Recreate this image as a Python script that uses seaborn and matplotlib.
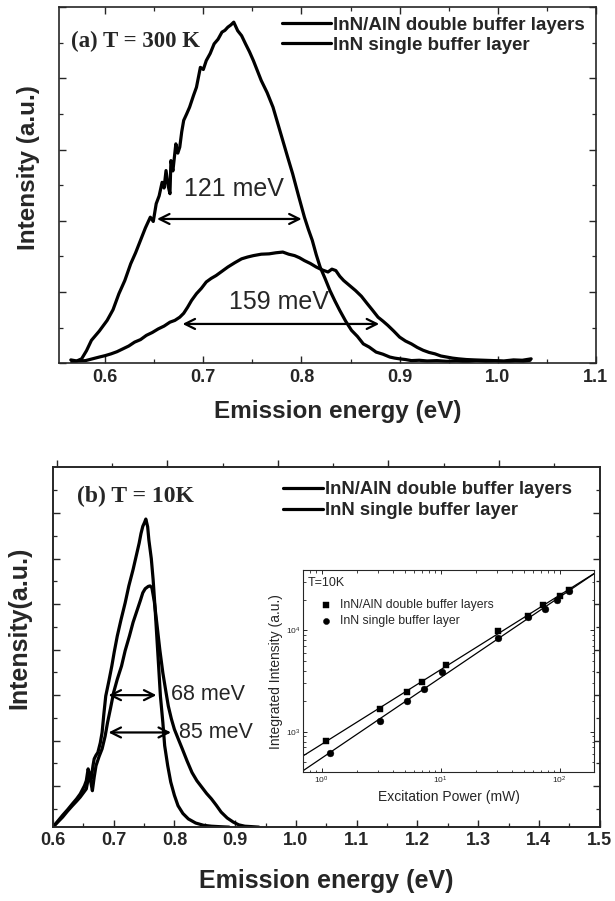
import numpy as np
import pandas as pd
import matplotlib
matplotlib.use("Agg")
import matplotlib.pyplot as plt
from matplotlib.ticker import MultipleLocator, FixedLocator, NullFormatter, LogLocator
import seaborn as sns

# ---------------- Panel (a): T = 300 K ----------------
a_double_E = [0.565, 0.571, 0.576, 0.581, 0.586, 0.594, 0.602, 0.608, 0.614, 0.620, 0.626, 0.631,
              0.636, 0.641, 0.646, 0.649, 0.652, 0.655, 0.658, 0.660, 0.662, 0.664, 0.666, 0.667,
              0.669, 0.672, 0.674, 0.676, 0.678, 0.680, 0.683, 0.686, 0.690, 0.693, 0.697, 0.700,
              0.703, 0.707, 0.711, 0.715, 0.719, 0.722, 0.725, 0.728, 0.731, 0.735, 0.739, 0.743,
              0.747, 0.751, 0.755, 0.759, 0.765, 0.771, 0.776, 0.781, 0.786, 0.791, 0.797, 0.803,
              0.807, 0.811, 0.815, 0.819, 0.824, 0.829, 0.834, 0.839, 0.845, 0.851, 0.857, 0.863,
              0.869, 0.876, 0.883, 0.890, 0.895, 0.900, 0.906, 0.912, 0.920, 0.928, 0.938, 0.948,
              0.958, 0.968, 0.978, 0.988, 0.998, 1.008, 1.018, 1.026, 1.033]
a_double_I = [0.009, 0.006, 0.012, 0.035, 0.064, 0.090, 0.120, 0.150, 0.195, 0.232, 0.279, 0.310,
              0.345, 0.380, 0.410, 0.398, 0.448, 0.470, 0.508, 0.492, 0.541, 0.500, 0.476, 0.569,
              0.540, 0.616, 0.590, 0.607, 0.650, 0.682, 0.700, 0.719, 0.752, 0.775, 0.831, 0.825,
              0.850, 0.870, 0.897, 0.910, 0.930, 0.935, 0.944, 0.950, 0.958, 0.934, 0.920, 0.897,
              0.875, 0.850, 0.822, 0.794, 0.760, 0.719, 0.672, 0.625, 0.578, 0.532, 0.470, 0.410,
              0.376, 0.345, 0.305, 0.270, 0.238, 0.204, 0.175, 0.148, 0.118, 0.092, 0.075, 0.054,
              0.045, 0.031, 0.025, 0.017, 0.014, 0.012, 0.010, 0.007, 0.008, 0.006, 0.007, 0.005,
              0.006, 0.004, 0.007, 0.005, 0.006, 0.004, 0.006, 0.005, 0.008]

a_single_E = [0.566, 0.573, 0.580, 0.587, 0.594, 0.600, 0.606, 0.612, 0.618, 0.624, 0.630, 0.636,
              0.642, 0.648, 0.654, 0.660, 0.666, 0.671, 0.676, 0.680, 0.684, 0.688, 0.693, 0.698,
              0.703, 0.708, 0.713, 0.719, 0.725, 0.732, 0.739, 0.745, 0.751, 0.759, 0.767, 0.774,
              0.781, 0.787, 0.793, 0.798, 0.803, 0.809, 0.815, 0.821, 0.827, 0.831, 0.835, 0.839,
              0.843, 0.849, 0.855, 0.861, 0.867, 0.872, 0.878, 0.883, 0.888, 0.894, 0.900, 0.906,
              0.912, 0.918, 0.924, 0.930, 0.936, 0.942, 0.948, 0.954, 0.960, 0.968, 0.976, 0.986,
              0.996, 1.006, 1.016, 1.025, 1.034]
a_single_I = [0.003, 0.006, 0.007, 0.012, 0.017, 0.021, 0.026, 0.032, 0.040, 0.048, 0.059, 0.066,
              0.078, 0.086, 0.096, 0.104, 0.115, 0.120, 0.129, 0.140, 0.157, 0.176, 0.195, 0.210,
              0.228, 0.238, 0.246, 0.258, 0.270, 0.282, 0.293, 0.298, 0.302, 0.306, 0.307, 0.310,
              0.312, 0.306, 0.302, 0.296, 0.288, 0.280, 0.270, 0.262, 0.256, 0.264, 0.260, 0.244,
              0.232, 0.218, 0.204, 0.188, 0.167, 0.150, 0.129, 0.118, 0.106, 0.090, 0.073, 0.062,
              0.054, 0.044, 0.036, 0.030, 0.026, 0.020, 0.017, 0.014, 0.012, 0.010, 0.009, 0.008,
              0.007, 0.006, 0.009, 0.008, 0.012]

# ---------------- Panel (b): T = 10 K ----------------
b_double_E = [0.600, 0.608, 0.616, 0.624, 0.632, 0.639, 0.645, 0.652, 0.655, 0.658, 0.661, 0.663,
              0.666, 0.668, 0.671, 0.674, 0.678, 0.681, 0.684, 0.687, 0.692, 0.697, 0.701, 0.706,
              0.712, 0.719, 0.725, 0.732, 0.737, 0.742, 0.745, 0.748, 0.751, 0.753, 0.756, 0.758,
              0.762, 0.765, 0.768, 0.771, 0.774, 0.777, 0.781, 0.784, 0.789, 0.794, 0.800, 0.806,
              0.814, 0.823, 0.835, 0.848, 0.861, 0.874, 0.890]
b_double_I = [0.00, 0.13, 0.26, 0.38, 0.51, 0.62, 0.73, 0.91, 1.02, 1.28, 1.12, 1.06,
              1.35, 1.50, 1.58, 1.64, 1.85, 2.08, 2.50, 2.88, 3.20, 3.54, 3.85, 4.20,
              4.55, 4.93, 5.30, 5.66, 5.95, 6.24, 6.45, 6.61, 6.70, 6.77, 6.60, 6.31,
              5.90, 5.44, 4.85, 4.20, 3.55, 2.88, 2.30, 1.79, 1.35, 0.99, 0.70, 0.47,
              0.30, 0.18, 0.09, 0.04, 0.02, 0.01, 0.00]

b_single_E = [0.600, 0.608, 0.616, 0.624, 0.632, 0.639, 0.645, 0.650, 0.655, 0.658, 0.660, 0.663,
              0.665, 0.668, 0.671, 0.676, 0.681, 0.686, 0.690, 0.695, 0.700, 0.706, 0.713, 0.719,
              0.726, 0.732, 0.739, 0.744, 0.748, 0.752, 0.757, 0.760, 0.763, 0.767, 0.771, 0.776,
              0.781, 0.786, 0.790, 0.795, 0.800, 0.806, 0.813, 0.821, 0.829, 0.837, 0.845, 0.853,
              0.861, 0.869, 0.877, 0.887, 0.897, 0.906, 0.916, 0.928, 0.939]
b_single_I = [0.00, 0.11, 0.22, 0.35, 0.47, 0.57, 0.66, 0.75, 0.84, 1.05, 1.20, 0.95,
              0.80, 1.10, 1.35, 1.55, 1.72, 2.00, 2.30, 2.62, 2.96, 3.25, 3.54, 3.88,
              4.20, 4.50, 4.78, 4.98, 5.15, 5.24, 5.29, 5.30, 5.26, 4.95, 4.49, 3.90,
              3.39, 2.98, 2.66, 2.38, 2.15, 1.95, 1.72, 1.45, 1.20, 1.02, 0.88, 0.74,
              0.62, 0.48, 0.33, 0.20, 0.11, 0.05, 0.02, 0.01, 0.00]

# ---------------- Inset: integrated intensity vs power ----------------
power_double = [1.09, 3.1, 5.2, 7.0, 11.0, 30.3, 54.0, 72.6, 100.0, 120.0]
integ_double = [813, 1660, 2480, 3110, 4600, 9800, 13800, 17700, 22000, 24700]
power_single = [1.18, 3.1, 5.2, 7.2, 10.2, 30.3, 54.0, 76.0, 96.0, 120.0]
integ_single = [618, 1280, 2000, 2620, 3900, 8470, 13500, 16300, 19700, 24500]

series_names = ["InN/AlN double buffer layers", "InN single buffer layer"]
a_ticks = [0.6, 0.7, 0.8, 0.9, 1.0, 1.1]
b_ticks = [0.6, 0.7, 0.8, 0.9, 1.0, 1.1, 1.2, 1.3, 1.4, 1.5]

# FWHM annotations: (left E, right E, height, text)
a_fwhm = [(0.650, 0.803, 0.405, "121 meV"), (0.676, 0.882, 0.110, "159 meV")]
b_fwhm = [(0.687, 0.775, 2.90, "68 meV"), (0.687, 0.799, 2.08, "85 meV")]

# ---------------- Styling ----------------
sns.set_style("ticks")
plt.rcParams['font.family'] = ['Liberation Sans', 'DejaVu Sans']
plt.rcParams['axes.linewidth'] = 1.2
plt.rcParams['xtick.major.width'] = 1.0
plt.rcParams['ytick.major.width'] = 1.0
plt.rcParams['xtick.minor.width'] = 0.9
plt.rcParams['ytick.minor.width'] = 0.9

fig = plt.figure(figsize=(6.15, 9.01), dpi=100)
axA = fig.add_axes([0.096, 0.597, 0.873, 0.395])
axB = fig.add_axes([0.086, 0.082, 0.889, 0.400])

LW = 2.3

# Panel (a)
dfa1 = pd.DataFrame({"E": a_double_E, "I": a_double_I})
dfa2 = pd.DataFrame({"E": a_single_E, "I": a_single_I})
sns.lineplot(data=dfa1, x="E", y="I", ax=axA, color="black", lw=LW, sort=False,
             estimator=None, label=series_names[0])
sns.lineplot(data=dfa2, x="E", y="I", ax=axA, color="black", lw=LW, sort=False,
             estimator=None, label=series_names[1])
axA.set_xlim(0.553, 1.1)
axA.set_ylim(0, 1.0)
axA.set_xticks(a_ticks, labels=[f"{t:.1f}" for t in a_ticks], fontsize=13, fontweight="bold")
axA.xaxis.set_minor_locator(MultipleLocator(0.05))
axA.yaxis.set_major_locator(MultipleLocator(0.2))
axA.yaxis.set_minor_locator(MultipleLocator(0.1))
axA.yaxis.set_major_formatter(NullFormatter())
axA.tick_params(which="both", direction="in", top=True, right=True)
axA.tick_params(which="major", length=5)
axA.tick_params(which="minor", length=3)
axA.tick_params(axis="x", pad=4)
axA.set_xlabel("Emission energy (eV)", fontsize=17.5, fontweight="bold")
axA.set_ylabel("Intensity (a.u.)", fontsize=17.5, fontweight="bold")
axA.xaxis.set_label_coords(0.52, -0.105)
axA.yaxis.set_label_coords(-0.036, 0.55)
axA.legend(loc="upper left", bbox_to_anchor=(0.395, 1.005), frameon=False,
           prop={"size": 13.5, "weight": "bold"}, handlelength=2.6, handletextpad=0.1,
           labelspacing=0.15, borderaxespad=0.2)
axA.text(0.022, 0.905, "(a) T = 300 K", transform=axA.transAxes, fontsize=16.5,
         fontweight="bold", family=["Liberation Serif", "DejaVu Serif"], va="center")
for l, r, h, t in a_fwhm:
    axA.annotate("", xy=(l, h), xytext=(r, h),
                 arrowprops=dict(arrowstyle="<->", color="black", lw=1.6, mutation_scale=18))
axA.text(0.7315, 0.49, a_fwhm[0][3], fontsize=18, ha="center", va="center")
axA.text(0.777, 0.171, a_fwhm[1][3], fontsize=18, ha="center", va="center")

# Panel (b)
dfb1 = pd.DataFrame({"E": b_double_E, "I": b_double_I})
dfb2 = pd.DataFrame({"E": b_single_E, "I": b_single_I})
sns.lineplot(data=dfb1, x="E", y="I", ax=axB, color="black", lw=LW, sort=False,
             estimator=None, label=series_names[0])
sns.lineplot(data=dfb2, x="E", y="I", ax=axB, color="black", lw=LW, sort=False,
             estimator=None, label=series_names[1])
axB.set_xlim(0.6, 1.5)
axB.set_ylim(0, 7.92)
axB.set_xticks(b_ticks, labels=[f"{t:.1f}" for t in b_ticks], fontsize=13, fontweight="bold")
axB.xaxis.set_minor_locator(MultipleLocator(0.05))
axB.yaxis.set_major_locator(FixedLocator(np.arange(0.9, 7.9, 1.0)))
axB.yaxis.set_minor_locator(FixedLocator(np.arange(0.4, 7.9, 1.0)))
axB.yaxis.set_major_formatter(NullFormatter())
axB.tick_params(which="both", direction="in", top=False, right=True)
axB.tick_params(which="major", length=5)
axB.tick_params(which="minor", length=3)
axB.set_xlabel("Emission energy (eV)", fontsize=18, fontweight="bold")
axB.set_ylabel("Intensity(a.u.)", fontsize=18, fontweight="bold")
axB.xaxis.set_label_coords(0.50, -0.115)
axB.yaxis.set_label_coords(-0.040, 0.553)
axB.legend(loc="upper left", bbox_to_anchor=(0.40, 0.99), frameon=False,
           prop={"size": 13.2, "weight": "bold"}, handlelength=2.2, handletextpad=0.1,
           labelspacing=0.2, borderaxespad=0.2)
axB.text(0.045, 0.917, "(b) T = 10K", transform=axB.transAxes, fontsize=17,
         fontweight="bold", family=["Liberation Serif", "DejaVu Serif"], va="center")
for l, r, h, t in b_fwhm:
    axB.annotate("", xy=(l, h), xytext=(r, h),
                 arrowprops=dict(arrowstyle="<->", color="black", lw=1.6, mutation_scale=18))
axB.text(0.856, 2.92, b_fwhm[0][3], fontsize=15.5, ha="center", va="center")
axB.text(0.869, 2.08, b_fwhm[1][3], fontsize=15.5, ha="center", va="center")

# top axis of panel (b) with its own tick spacing
axT = axB.twiny()
axT.set_xlim(-0.072, 9.82)
axT.xaxis.set_major_locator(MultipleLocator(2))
axT.xaxis.set_minor_locator(MultipleLocator(1))
axT.xaxis.set_major_formatter(NullFormatter())
axT.tick_params(which="both", direction="out", top=True, bottom=False, labeltop=False)
axT.tick_params(which="major", length=5)
axT.tick_params(which="minor", length=3)

# Inset
axI = fig.add_axes([0.493, 0.143, 0.473, 0.224])
dfi1 = pd.DataFrame({"P": power_double, "S": integ_double})
dfi2 = pd.DataFrame({"P": power_single, "S": integ_single})
sns.scatterplot(data=dfi1, x="P", y="S", ax=axI, marker="s", s=24, color="black",
                edgecolor="black", linewidth=0.3, label=series_names[0], zorder=3)
sns.scatterplot(data=dfi2, x="P", y="S", ax=axI, marker="o", s=24, color="black",
                edgecolor="black", linewidth=0.3, label=series_names[1], zorder=3)
axI.set_xscale("log")
axI.set_yscale("log")
xlo, xhi = 0.7, 195.0
axI.set_xlim(xlo, xhi)
axI.set_ylim(400, 39000)
xf = np.array([xlo, xhi])
for P, S in ((power_double, integ_double), (power_single, integ_single)):
    k, b = np.polyfit(np.log10(P), np.log10(S), 1)
    sns.lineplot(x=xf, y=10 ** (b + k * np.log10(xf)), ax=axI, color="black", lw=0.9,
                 estimator=None)
axI.xaxis.set_major_locator(LogLocator(base=10, numticks=10))
axI.yaxis.set_major_locator(LogLocator(base=10, numticks=10))
axI.tick_params(which="both", direction="in", top=True, right=True, labelsize=6, pad=2)
axI.tick_params(which="major", length=3, width=0.7)
axI.tick_params(which="minor", length=1.8, width=0.6)
for sp in axI.spines.values():
    sp.set_linewidth(0.8)
axI.set_xlabel("Excitation Power (mW)", fontsize=10, labelpad=3)
axI.set_ylabel("Integrated Intensity (a.u.)", fontsize=10, labelpad=2)
axI.legend(loc="upper left", bbox_to_anchor=(0.02, 0.88), frameon=False,
           prop={"size": 8.8}, handletextpad=0.1, labelspacing=0.3, borderaxespad=0.0,
           markerscale=0.9)
axI.text(0.015, 0.935, "T=10K", transform=axI.transAxes, fontsize=9, va="center")

fig.savefig("out.png", dpi=100)
